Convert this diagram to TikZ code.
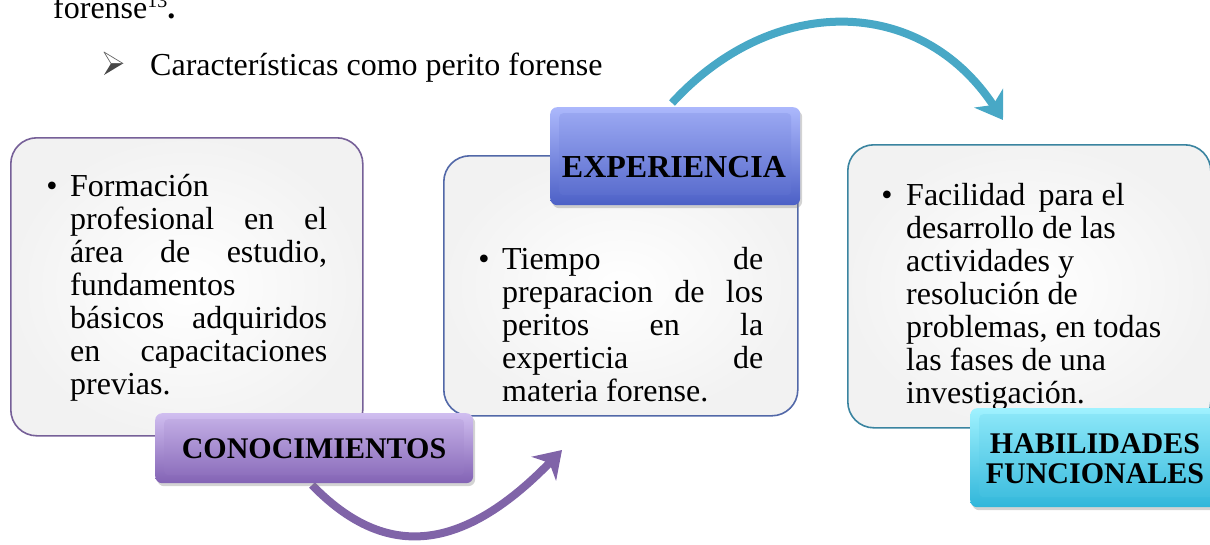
\documentclass[tikz,border=0pt]{standalone}
\usepackage{fontspec}
\setmainfont{Liberation Serif}
\usetikzlibrary{arrows.meta,shadows}
\definecolor{purpEdge}{RGB}{118,96,152}
\definecolor{blueEdge}{RGB}{82,104,168}
\definecolor{tealEdge}{RGB}{58,132,160}
\definecolor{conoL}{RGB}{208,190,240}
\definecolor{conoD}{RGB}{130,98,180}
\definecolor{expL}{RGB}{172,184,252}
\definecolor{expD}{RGB}{76,96,198}
\definecolor{habL}{RGB}{160,242,255}
\definecolor{habD}{RGB}{48,182,218}
\definecolor{tealArrow}{RGB}{72,168,198}
\definecolor{purpArrow}{RGB}{128,100,168}
\begin{document}
\begin{tikzpicture}[x=1pt,y=-1pt,
  bodybox/.style={draw, line width=1.6pt, rounded corners=26pt, inner color=white, outer color=black!5, anchor=north west, inner sep=0pt},
  labelbox/.style={rounded corners=7pt, anchor=north west, inner sep=0pt, drop shadow={shadow xshift=2pt, shadow yshift=-3pt, opacity=0.35}},
  labelface/.style={rounded corners=4pt, anchor=north west, inner sep=0pt},
  bodytxt/.style={inner sep=0pt, anchor=base west, font=\fontsize{32}{33}\selectfont},
  bulletmark/.style={inner sep=0pt, anchor=base, font=\fontsize{32}{33}\selectfont},
  labtxt/.style={inner sep=0pt, anchor=base, font=\fontsize{30}{30}\selectfont\bfseries, align=center},
  plaintxt/.style={inner sep=0pt, anchor=base west, font=\fontsize{32}{33}\selectfont},
  arrowline/.style={line width=8pt, -{Stealth[length=26pt,width=34pt,inset=8pt]}},
]
\useasboundingbox (0,0) rectangle (1210,544);
\clip (0,0) rectangle (1210,544);

% heading texts
\node[plaintxt] (prev) at (53,18) {forense\raisebox{11pt}{\fontsize{20}{20}\selectfont 13}\textbf{.}};
% 3D arrowhead bullet
\fill[black!72] (104,75) -- (123,63.5) -- (111,63.5) -- cycle;
\draw[black!60, line width=0.7pt, fill=white, line join=round] (104,52) -- (123,63.5) -- (111,63.5) -- cycle;
\node[plaintxt] (head) at (150,75) {Características como perito forense};

% arrow anchor coordinates
\coordinate (a1s) at (312,485);
\coordinate (a1e) at (562,450);
\coordinate (a2s) at (672,103);
\coordinate (a2e) at (1003,120);

% arrows (behind boxes)
\draw[arrowline, purpArrow] (a1s) .. controls (382,557) and (458,557) .. (a1e);
\draw[arrowline, tealArrow] (a2s) .. controls (772,-6) and (920,-6) .. (a2e);

% body boxes
\node[bodybox, draw=purpEdge, minimum width=352pt, minimum height=298pt] (b1) at (10,137) {};
\node[bodybox, draw=blueEdge, minimum width=354pt, minimum height=260pt] (b2) at (443,155) {};
\node[bodybox, draw=tealEdge, minimum width=363pt, minimum height=283pt] (b3) at (847,144) {};

% body texts
\node[bulletmark] (u1) at (52,196) {•};
\node[bodytxt] (t1) at (70,196) {\parbox[t]{257pt}{Formación\\
\makebox[257pt][s]{profesional en el}\\
\makebox[257pt][s]{área de estudio,}\\
fundamentos\\
\makebox[257pt][s]{básicos adquiridos}\\
\makebox[257pt][s]{en capacitaciones}\\
previas.}};

\node[bulletmark] (u2) at (484,269) {•};
\node[bodytxt] (t2) at (502,269) {\parbox[t]{261pt}{\makebox[261pt][s]{Tiempo \hfill de}\\
\makebox[261pt][s]{preparacion de los}\\
\makebox[261pt][s]{peritos en la}\\
\makebox[261pt][s]{experticia de}\\
materia forense.}};

\node[bulletmark] (u3) at (887,205) {•};
\node[bodytxt] (t3) at (906,205) {\parbox[t]{290pt}{Facilidad\, para el\\
desarrollo de las\\
actividades y\\
resolución de\\
problemas, en todas\\
las fases de una\\
investigación.}};

% labels
\node[labelbox, top color=conoL, bottom color=conoD, minimum width=318pt, minimum height=70pt] (l1) at (155,413) {};
\node[labelface, top color=conoL!80!conoD, bottom color=conoD!85!conoL, minimum width=300pt, minimum height=56pt] (f1) at (164,419) {};
\node[labtxt] (x1) at (314,458) {CONOCIMIENTOS};

\node[labelbox, top color=expL, bottom color=expD, minimum width=250pt, minimum height=98pt] (l2) at (550,107) {};
\node[labelface, top color=expL!80!expD, bottom color=expD!85!expL, minimum width=232pt, minimum height=82pt] (f2) at (559,113) {};
\node[labtxt, font=\fontsize{32}{32}\selectfont\bfseries] (x2) at (674,177) {EXPERIENCIA};

\node[labelbox, top color=habL, bottom color=habD, minimum width=252pt, minimum height=99pt] (l3) at (970,408) {};
\node[labelface, top color=habL!80!habD, bottom color=habD!85!habL, minimum width=234pt, minimum height=83pt] (f3) at (979,414) {};
\node[labtxt] (x3a) at (1095,453) {HABILIDADES};
\node[labtxt] (x3b) at (1095,483) {FUNCIONALES};
\end{tikzpicture}
\end{document}
